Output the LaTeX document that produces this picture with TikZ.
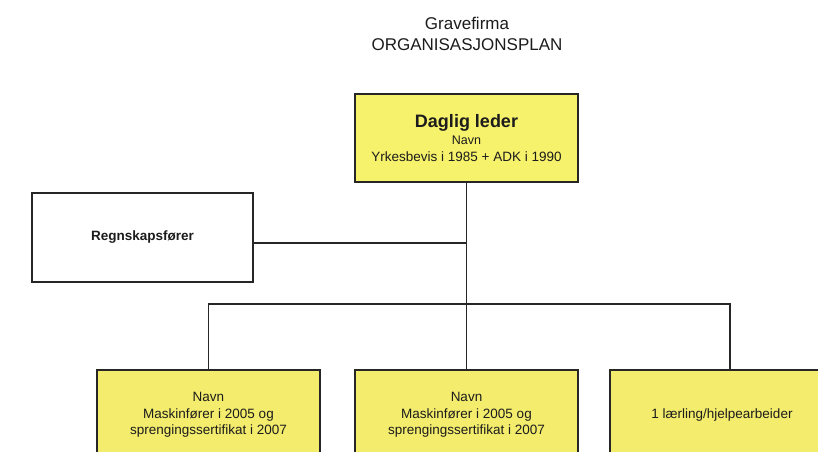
\documentclass[tikz,border=0pt]{standalone}
\usepackage{fontspec}
\setmainfont{Liberation Sans}
\definecolor{linegray}{HTML}{262626}
\definecolor{textgray}{HTML}{1C1C1C}
\definecolor{leadyellow}{HTML}{F7F26C}
\definecolor{crewyellow}{HTML}{F3EC6C}
\begin{document}
\begin{tikzpicture}[x=1pt,y=-1pt,
  box/.style={draw=linegray, line width=1.2pt, inner sep=0pt, align=center, text=textgray},
  leadbox/.style={box, fill=leadyellow, minimum width=223pt, minimum height=88pt},
  crewbox/.style={box, fill=crewyellow, minimum width=223pt, minimum height=90pt,
                  font=\fontsize{13.5}{16.5}\selectfont},
  link/.style={draw=linegray, line width=1.2pt},
]
\useasboundingbox (0,0) rectangle (818,451);
\fill[white] (0,0) rectangle (818,451);

% heading
\node[align=center, text=textgray, font=\fontsize{17}{21}\selectfont] (title) at (467,33.5)
  {Gravefirma\\ORGANISASJONSPLAN};

% manager
\node[leadbox, font=\fontsize{13.5}{16.5}\selectfont] (lead) at (466.5,138)
  {{\fontsize{18}{20}\selectfont\bfseries Daglig leder}\\[1pt]
   {\fontsize{12.5}{15}\selectfont Navn}\\
   Yrkesbevis i 1985 + ADK i 1990};

% accountant
\node[box, fill=white, minimum width=221pt, minimum height=89pt,
      font=\fontsize{13.5}{16}\selectfont\bfseries] (acct) at (142.5,237.5) {Regnskapsfører};

% crew
\node[crewbox] (op1) at (208.5,415)
  {Navn\\Maskinfører i 2005 og\\sprengingssertifikat i 2007};
\node[crewbox] (op2) at (466.5,415)
  {Navn\\Maskinfører i 2005 og\\sprengingssertifikat i 2007};
\node[crewbox, minimum width=224pt] (op3) at (722,415) {1 lærling/hjelpearbeider};

% connectors
\coordinate (tap) at (466.5,243);
\coordinate (bus3) at (730,304);
\draw[link] (lead.south) -- (op2.north);
\draw[link] (acct.east |- tap) -- (tap);
\draw[link] (op1.north) |- (bus3) -- (bus3 |- op3.north);
\end{tikzpicture}
\end{document}
